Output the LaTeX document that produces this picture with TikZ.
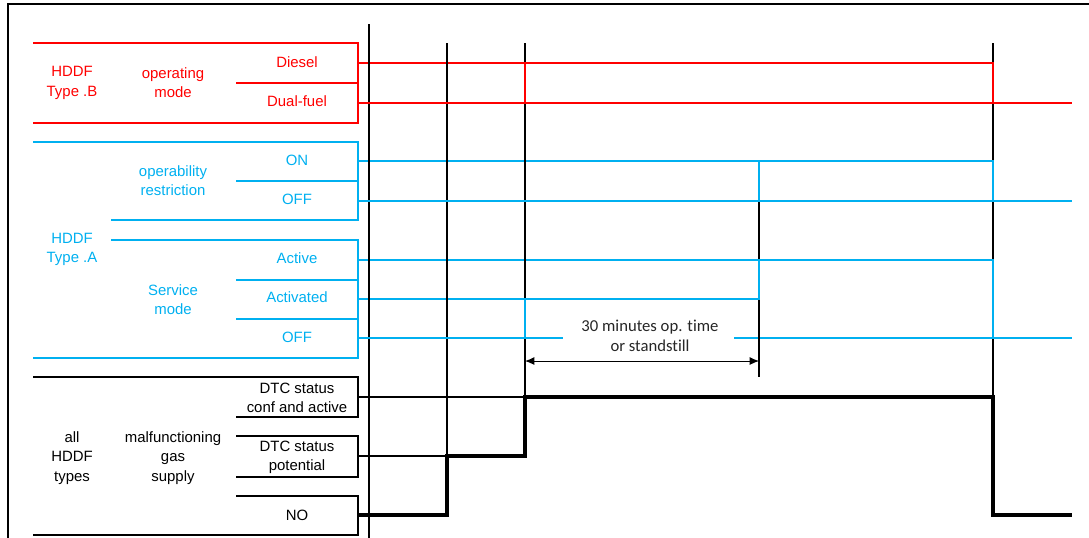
\documentclass[tikz,border=0pt]{standalone}
\usepackage{fontspec}
\setmainfont{Liberation Sans}
\newfontfamily\calib[Ligatures=NoCommon]{Carlito}
\usetikzlibrary{arrows.meta}
\definecolor{myred}{RGB}{255,0,0}
\definecolor{myblue}{RGB}{0,176,240}
\begin{document}
\begin{tikzpicture}[x=0.75pt,y=-0.75pt,
  lbl/.style={font=\fontsize{11.2}{14.4}\selectfont, align=center, inner sep=0pt},
  brk/.style={line width=1.2pt},
  lvl/.style={line width=1.0pt},
  sig/.style={line width=1.9pt},
  bsig/.style={line width=2.4pt},
  tline/.style={line width=1.4pt, black},
  dimarrow/.style={line width=0.7pt, {Latex[length=7pt,width=6pt]}-{Latex[length=7pt,width=6pt]}}]
\useasboundingbox (0,0) rectangle (1089,537);
\clip (0,0) rectangle (1089,537);
% frame
\draw[line width=1.5pt] (8,545) -- (8,4) -- (1095,4);

% ---------- red group ----------
\begin{scope}[myred]
\draw[brk] (33,43) -- (358,43) -- (358,123) -- (33,123);
\draw[brk] (236,83) -- (358,83);
\node[lbl, text=myred] (hb) at (72,83) {HDDF\\Type .B};
\node[lbl, text=myred] (om) at (173,83) {operating\\mode};
\node[lbl, text=myred] (diesel) at (297,62) {Diesel};
\node[lbl, text=myred] (dual) at (297,101) {Dual-fuel};
\draw[lvl] (358,63) -- (525,63);
\draw[lvl] (525,103) -- (993,103);
\end{scope}

% ---------- blue group ----------
\begin{scope}[myblue]
\draw[brk] (33,142) -- (358,142) -- (358,220) -- (111,220);
\draw[brk] (236,181) -- (358,181);
\draw[brk] (111,240) -- (358,240) -- (358,358) -- (33,358);
\draw[brk] (236,280) -- (358,280);
\draw[brk] (236,319) -- (358,319);
\node[lbl, text=myblue] (ha) at (72,249.5) {HDDF\\Type .A};
\node[lbl, text=myblue] (opr) at (173,181) {operability\\restriction};
\node[lbl, text=myblue] (on) at (297,160) {ON};
\node[lbl, text=myblue] (off1) at (297,199) {OFF};
\node[lbl, text=myblue] (sm) at (173,299.5) {Service\\mode};
\node[lbl, text=myblue] (active) at (297,258) {Active};
\node[lbl, text=myblue] (activated) at (297,297) {Activated};
\node[lbl, text=myblue] (off2) at (297,337) {OFF};
\draw[lvl] (358,161) -- (759,161);
\draw[lvl] (759,201) -- (993,201);
\draw[lvl] (358,260) -- (759,260);
\draw[lvl] (358,299) -- (525,299);
\draw[lvl] (525,338) -- (563,338);
\draw[lvl] (734,338) -- (993,338);
\end{scope}

% ---------- black group ----------
\draw[line width=0.9pt] (33,377) -- (358,377) -- (358,417) -- (236,417);
\draw[line width=0.9pt] (236,436) -- (358,436) -- (358,477) -- (236,477);
\draw[line width=0.9pt] (236,496) -- (358,496) -- (358,535) -- (33,535);
\node[lbl] (dtc1) at (297,398) {DTC status\\conf and active};
\node[lbl] (dtc2) at (297,457) {DTC status\\potential};
\node[lbl] (no) at (297,515) {NO};
\node[lbl] (all) at (72,458) {all\\HDDF\\types};
\node[lbl] (mgs) at (173,458) {malfunctioning\\gas\\supply};
\draw[line width=0.8pt] (358,397) -- (525,397);
\draw[line width=0.8pt] (358,456) -- (447,456);

% ---------- time lines ----------
\coordinate (t0) at (369,24);
\coordinate (t1) at (447,43);
\coordinate (t2) at (525,43);
\coordinate (t3) at (759,201);
\coordinate (t4) at (993,43);
\draw[tline] (t0) -- (369,540);
\draw[tline] (t1) -- (447,456);
\draw[tline] (t2) -- (525,397);
\draw[tline] (t3) -- (759,377);
\draw[tline] (t4) -- (993,397);

% ---------- signals ----------
\draw[sig, myred] (358,103) -- (525,103) -- (525,63) -- (993,63) -- (993,103) -- (1072,103);
\draw[sig, myblue] (358,201) -- (759,201) -- (759,161) -- (993,161) -- (993,201) -- (1072,201);
\draw[sig, myblue] (358,338) -- (525,338) -- (525,299) -- (759,299) -- (759,260) -- (993,260) -- (993,338) -- (1072,338);
\draw[bsig] (358,515) -- (447,515) -- (447,456) -- (525,456) -- (525,397) -- (993,397) -- (993,515) -- (1072,515);

% ---------- duration ----------
\node[font=\calib\fontsize{12.5}{15}\selectfont, align=center, inner sep=0pt, text=black!85] (dur) at (650,335.5) {30 minutes op. time\\or standstill};
\coordinate (da) at (525,361);
\coordinate (db) at (759,361);
\draw[dimarrow] (da) -- (db);
\end{tikzpicture}
\end{document}
